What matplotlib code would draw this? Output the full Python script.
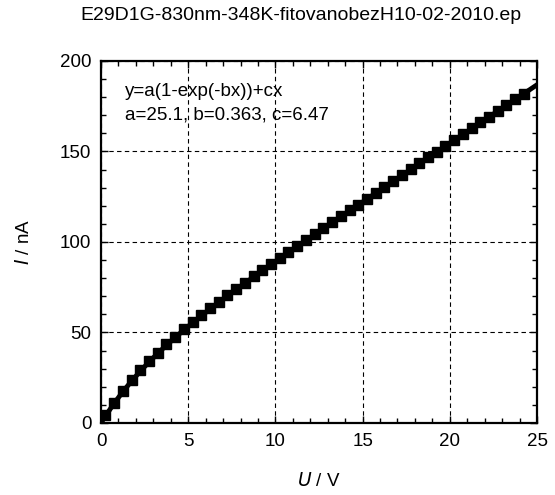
import matplotlib
matplotlib.use('Agg')
import matplotlib.pyplot as plt
from matplotlib.ticker import MultipleLocator

plt.rcParams['font.family'] = ['Liberation Sans', 'DejaVu Sans']

# measured points (U in V, I in nA)
u_data = [0.25, 0.75, 1.25, 1.75, 2.25, 2.75, 3.25, 3.75, 4.25, 4.75,
          5.25, 5.75, 6.25, 6.75, 7.25, 7.75, 8.25, 8.75, 9.25, 9.75,
          10.25, 10.75, 11.25, 11.75, 12.25, 12.75, 13.25, 13.75, 14.25, 14.75,
          15.25, 15.75, 16.25, 16.75, 17.25, 17.75, 18.25, 18.75, 19.25, 19.75,
          20.25, 20.75, 21.25, 21.75, 22.25, 22.75, 23.25, 23.75, 24.25]
i_data = [4.3, 11.3, 17.7, 23.6, 29.0, 34.1, 38.9, 43.4, 47.7, 51.8,
          55.8, 59.6, 63.4, 67.0, 70.6, 74.1, 77.6, 81.0, 84.5, 87.8,
          91.2, 94.5, 97.8, 101.1, 104.4, 107.7, 111.0, 114.2, 117.5, 120.7,
          124.0, 127.2, 130.5, 133.7, 137.0, 140.2, 143.4, 146.7, 149.9, 153.1,
          156.4, 159.6, 162.9, 166.1, 169.3, 172.6, 175.8, 179.0, 181.8]

# fitted curve y=a(1-exp(-bx))+cx with a=25.1, b=0.363, c=6.47
u_fit = [0.0, 0.25, 0.75, 1.25, 1.75, 2.25, 2.75, 3.25, 3.75, 4.25, 4.75,
         5.25, 5.75, 6.25, 6.75, 7.25, 7.75, 8.25, 8.75, 9.25, 9.75,
         10.25, 10.75, 11.25, 11.75, 12.25, 12.75, 13.25, 13.75, 14.25, 14.75,
         15.25, 15.75, 16.25, 16.75, 17.25, 17.75, 18.25, 18.75, 19.25, 19.75,
         20.25, 20.75, 21.25, 21.75, 22.25, 22.75, 23.25, 23.75, 24.25, 25.0]
i_fit = [0.0, 3.80, 10.83, 17.25, 23.12, 28.57, 33.64, 38.42, 42.93, 47.23, 51.35,
         55.34, 59.19, 62.94, 66.60, 70.20, 73.73, 77.22, 80.66, 84.08, 87.45,
         90.81, 94.14, 97.47, 100.77, 104.07, 107.34, 110.63, 113.89, 117.16, 120.41,
         123.67, 126.92, 130.17, 133.41, 136.66, 139.90, 143.15, 146.38, 149.63, 152.86,
         156.10, 159.34, 162.58, 165.81, 169.05, 172.29, 175.53, 178.76, 182.00, 186.85]

fig = plt.figure(figsize=(5.55, 4.95), dpi=100)
ax = fig.add_axes([0.182, 0.1455, 0.7856, 0.7313])

ax.plot(u_fit, i_fit, color='black', linewidth=3.5, zorder=3)
ax.plot(u_data, i_data, linestyle='none', marker='s', markersize=6.5,
        color='black', zorder=4)

ax.set_xlim(0, 25)
ax.set_ylim(0, 200)
ax.xaxis.set_major_locator(MultipleLocator(5))
ax.xaxis.set_minor_locator(MultipleLocator(1))
ax.yaxis.set_major_locator(MultipleLocator(50))
ax.yaxis.set_minor_locator(MultipleLocator(10))
ax.tick_params(which='both', direction='in', top=True, right=True,
               labelsize=13.5, colors='black')
ax.tick_params(which='major', length=5, width=1, pad=7)
ax.tick_params(which='minor', length=3.5, width=1)
for s in ax.spines.values():
    s.set_linewidth(1.6)
ax.grid(True, which='major', color='black', linestyle=(0, (4, 3)), linewidth=0.8)

ax.set_xlabel(r'$\it{U}$ / V', fontsize=13.5, labelpad=16)
ax.set_ylabel(r'$\it{I}$ / nA', fontsize=13.5, labelpad=19)

ax.text(1.38, 183, 'y=a(1-exp(-bx))+cx', fontsize=13.5, va='center')
ax.text(1.38, 170, 'a=25.1, b=0.363, c=6.47', fontsize=13.5, va='center')

fig.text(80 / 555, 1 - 16 / 495, 'E29D1G-830nm-348K-fitovanobezH10-02-2010.ep',
         fontsize=14, ha='left', va='center')

fig.savefig('out.png', dpi=100)
